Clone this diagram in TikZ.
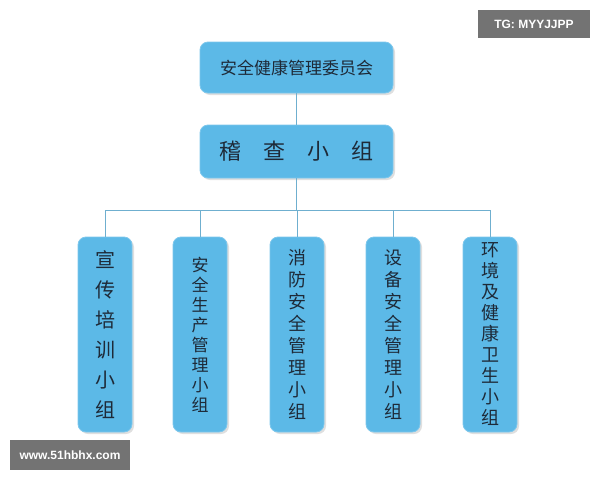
\documentclass[tikz,border=0pt]{standalone}
\usepackage{fontspec}
\newfontfamily\cjk{Noto Sans CJK SC}
\setmainfont{Liberation Sans}
\usetikzlibrary{shadows}
\definecolor{boxblue}{HTML}{5CB9E7}
\definecolor{linec}{HTML}{6FAFCF}
\definecolor{txt}{HTML}{1E2A38}
\tikzset{
  bx/.style={fill=boxblue, draw=boxblue!80!white, rounded corners=8pt, line width=0.8pt,
    drop shadow={shadow xshift=2pt, shadow yshift=-2pt, opacity=0.25, fill=gray},
    text=txt, font=\cjk, align=center, inner sep=0pt},
  conn/.style={draw=linec, line width=0.9pt},
  wmtext/.style={text=white, font=\bfseries\fontsize{12}{14}\selectfont}
}
\begin{document}
\begin{tikzpicture}[x=1pt,y=-1pt]
\useasboundingbox (0,0) rectangle (600,480);
\fill[white] (0,0) rectangle (600,480);
\node[bx, minimum width=193pt, minimum height=51pt, font=\cjk\fontsize{17}{20}\selectfont] (top) at (296.5,67.5) {安全健康管理委员会};
\node[bx, minimum width=193pt, minimum height=53pt, font=\cjk\fontsize{22}{26}\selectfont] (mid) at (296.5,151.5) {稽\hspace{22pt}查\hspace{22pt}小\hspace{22pt}组};
\coordinate (j) at (296.5,210);
\foreach \n/\x/\t/\s/\f in {
  a/105/{宣\\传\\培\\训\\小\\组}/30/20,
  b/200/{安\\全\\生\\产\\管\\理\\小\\组}/20/17,
  c/297/{消\\防\\安\\全\\管\\理\\小\\组}/22/18,
  d/393/{设\\备\\安\\全\\管\\理\\小\\组}/22/18,
  e/490/{环\\境\\及\\健\\康\\卫\\生\\小\\组}/21/18}{
  \node[bx, minimum width=54pt, minimum height=195pt, font=\cjk\fontsize{\f}{\s}\selectfont] (\n) at (\x,334.5) {\t};
}
\draw[conn] (top) -- (mid);
\draw[conn] (mid) -- (j);
\draw[conn] (a.north) -- (a.north|-j) -- (e.north|-j) -- (e.north);
\foreach \n in {b,c,d} \draw[conn] (\n.north|-j) -- (\n.north);
\fill[black!55] (478,10) rectangle (590,38);
\node[wmtext] (tg) at (534,24) {TG: MYYJJPP};
\fill[black!55] (10,440) rectangle (130,470);
\node[wmtext] (www) at (70,455) {www.51hbhx.com};
\end{tikzpicture}
\end{document}
